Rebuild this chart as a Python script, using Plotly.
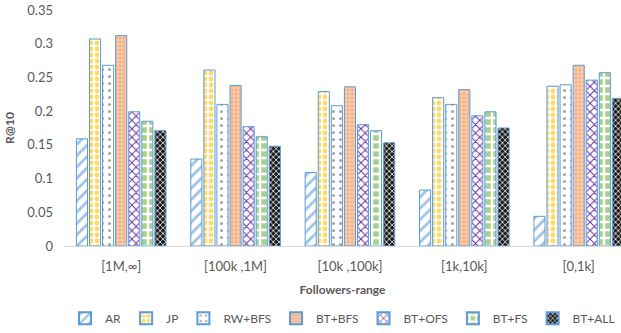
import plotly.graph_objects as go

categories = ["[1M,∞]", "[100k ,1M]", "[10k ,100k]", "[1k,10k]", "[0,1k]"]
series_names = ["AR", "JP", "RW+BFS", "BT+BFS", "BT+OFS", "BT+FS", "BT+ALL"]
AR = [0.159, 0.129, 0.109, 0.083, 0.044]
JP = [0.307, 0.261, 0.229, 0.220, 0.237]
RW_BFS = [0.268, 0.210, 0.208, 0.210, 0.239]
BT_BFS = [0.312, 0.238, 0.236, 0.232, 0.268]
BT_OFS = [0.199, 0.177, 0.180, 0.193, 0.246]
BT_FS = [0.185, 0.162, 0.171, 0.199, 0.257]
BT_ALL = [0.171, 0.148, 0.153, 0.175, 0.219]
values = [AR, JP, RW_BFS, BT_BFS, BT_OFS, BT_FS, BT_ALL]

styles = [
    dict(shape="/", fg="#9DC3E6", bg="white", size=8, sol=0.35),
    dict(shape=".", fg="#FFD966", bg="white", size=6, sol=0.5),
    dict(shape=".", fg="#A6A6A6", bg="white", size=7, sol=0.15),
    dict(shape="+", fg="#FBE5D6", bg="#F4B183", size=4, sol=0.3),
    dict(shape="x", fg="#7030A0", bg="white", size=6, sol=0.3),
    dict(shape="+", fg="white", bg="#A9D18E", size=8, sol=0.5),
    dict(shape="x", fg="white", bg="#1a1a1a", size=4, sol=0.35),
]

fig = go.Figure()
for name, vals, st in zip(series_names, values, styles):
    fig.add_trace(go.Bar(
        x=list(range(len(categories))), y=vals, name=name,
        marker=dict(
            color=st["bg"],
            line=dict(color="#5B9BD5", width=1),
            pattern=dict(shape=st["shape"], fgcolor=st["fg"], bgcolor=st["bg"],
                         size=st["size"], solidity=st["sol"], fillmode="replace"),
        ),
    ))

fig.update_layout(
    width=621, height=333,
    margin=dict(l=64, r=0, t=10, b=87, autoexpand=False),
    paper_bgcolor="white", plot_bgcolor="white",
    barmode="group", bargap=0.2, bargroupgap=0.15,
    font=dict(family="Lato, Open Sans, sans-serif", color="#595959", size=13),
    showlegend=True,
    legend=dict(orientation="h", x=0.5, xanchor="center", y=-0.245, yanchor="top",
                font=dict(size=12, color="#595959"), itemwidth=30,
                tracegroupgap=0, itemsizing="constant"),
    xaxis=dict(
        tickmode="array", tickvals=list(range(len(categories))), ticktext=categories,
        range=[-0.5, 4.37], showgrid=False, zeroline=False, automargin=False,
        showline=True, linecolor="#D9D9D9", linewidth=1, ticks="",
        ticklabelstandoff=8,
        tickfont=dict(size=13, color="#595959"),
        title=dict(text="<b>Followers-range</b>", font=dict(size=12, color="#595959"), standoff=13),
    ),
    yaxis=dict(
        range=[0, 0.35], dtick=0.05, showgrid=False, zeroline=False, automargin=False,
        showline=False, ticks="", ticklabelstandoff=10,
        tickfont=dict(size=13, color="#595959"),
        title=dict(text="<b>R@10</b>", font=dict(size=12, color="#595959"), standoff=10),
    ),
)

fig.write_html("out.html", config={"displayModeBar": False},
               post_script="document.body.style.margin='0';document.body.style.overflow='hidden';")
